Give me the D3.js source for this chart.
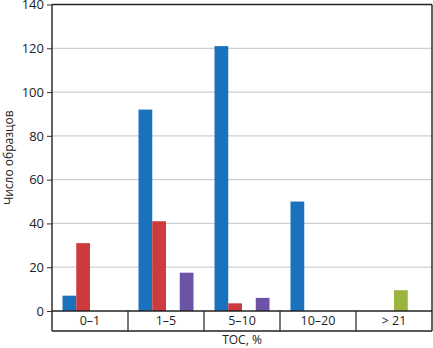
<!DOCTYPE html>
<html><head>
<meta charset="utf-8">
<script src="https://d3js.org/d3.v7.min.js"></script>
<style>
  body { margin:0; background:#fff; }
  text { font-family: "Open Sans", "Noto Sans", sans-serif; fill:#222; }
</style>
</head>
<body>
<svg id="chart" width="433" height="348"></svg>
<script>
  // data
  const categories = ["0–1", "1–5", "5–10", "10–20", "> 21"];
  const series = ["blue", "red", "green", "purple"];
  const colors = ["#1a72bd", "#cd3b3d", "#9bb43d", "#6b54a6"];
  const values = {
    blue:   [7, 92, 121, 50, 0],
    red:    [31, 41, 3.5, 0, 0],
    green:  [0, 0, 0, 0, 9.5],
    purple: [0, 17.5, 6, 0, 0]
  };
  const yTicks = [0, 20, 40, 60, 80, 100, 120, 140];

  let svg = d3.select("svg#chart");

  let plotLeft = 52, plotRight = 432, plotTop = 4.5, plotBottom = 311, tableBottom = 331;

  let x0 = d3.scaleBand()
             .domain(categories)
             .range([plotLeft, plotRight])
             .padding(0);

  let x1 = d3.scaleBand()
             .domain(series)
             .range([10.5, x0.bandwidth() - 10.5])
             .padding(0);

  let y = d3.scaleLinear()
            .domain([0, 140])
            .range([plotBottom, plotTop]);

  // gridlines
  yTicks.slice(1, -1).forEach(t => {
    svg.append("line")
       .attr("x1", plotLeft).attr("x2", plotRight)
       .attr("y1", y(t)).attr("y2", y(t))
       .style("stroke", "#cfcfcf").style("stroke-width", 1.2);
  });

  // bars
  categories.forEach((c, i) => {
    series.forEach((s, j) => {
      let v = values[s][i];
      if (v <= 0) return;
      svg.append("rect")
         .attr("x", x0(c) + x1(s))
         .attr("width", x1.bandwidth())
         .attr("y", y(v))
         .attr("height", y(0) - y(v))
         .attr("fill", colors[j]);
    });
  });

  // y axis with ticks
  let yAxis = d3.axisLeft(y).tickValues(yTicks).tickSize(5).tickPadding(3);
  let ga = svg.append("g").attr("transform", `translate(${plotLeft},0)`).call(yAxis);
  ga.select(".domain").remove();
  ga.selectAll("line").style("stroke", "#333");
  ga.selectAll("text").style("font-size", "13px").style("fill", "#222")
    .style("font-family", "\"Open Sans\", sans-serif");

  // frame lines
  const frame = [
    [plotLeft, plotTop, plotRight, plotTop],
    [plotRight, plotTop, plotRight, tableBottom],
    [plotLeft, plotTop, plotLeft, tableBottom],
    [plotLeft, plotBottom, plotRight, plotBottom],
    [plotLeft, tableBottom, plotRight, tableBottom]
  ];
  frame.forEach(f => {
    svg.append("line")
       .attr("x1", f[0]).attr("y1", f[1]).attr("x2", f[2]).attr("y2", f[3])
       .style("stroke", "#222").style("stroke-width", 1.4);
  });

  // category table dividers and labels
  categories.forEach((c, i) => {
    if (i > 0) {
      svg.append("line")
         .attr("x1", x0(c)).attr("x2", x0(c))
         .attr("y1", plotBottom).attr("y2", tableBottom)
         .style("stroke", "#222").style("stroke-width", 1.2);
    }
    svg.append("text")
       .text(c)
       .attr("x", x0(c) + x0.bandwidth() / 2)
       .attr("y", (plotBottom + tableBottom) / 2 + 1)
       .style("font-size", "12.5px")
       .style("text-anchor", "middle")
       .style("dominant-baseline", "middle");
  });

  // axis titles
  svg.append("text")
     .text("TOC, %")
     .attr("x", (plotLeft + plotRight) / 2)
     .attr("y", 341)
     .style("font-size", "12px")
     .style("text-anchor", "middle")
     .style("dominant-baseline", "middle");

  svg.append("text")
     .text("Число образцов")
     .attr("transform", `translate(10,${(plotTop + plotBottom) / 2}) rotate(-90)`)
     .style("font-size", "12px")
     .style("text-anchor", "middle")
     .style("dominant-baseline", "middle");
</script>
</body>
</html>
